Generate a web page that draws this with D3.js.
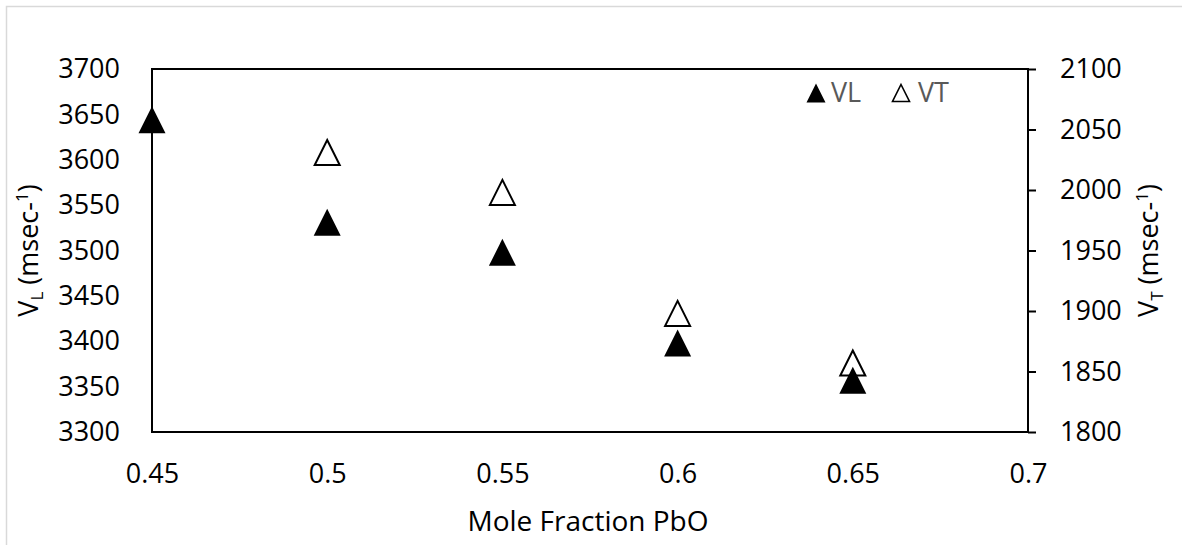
<!DOCTYPE html>
<html>
<head>
<meta charset="utf-8">
<script src="https://cdn.jsdelivr.net/npm/d3@7"></script>
<style>
  body { margin: 0; background: #fff; }
  text { font-family: "Open Sans", sans-serif; }
</style>
</head>
<body>
<div id="chart"></div>
<script>
// Sound velocities vs mole fraction PbO

var width = 1182
var height = 545

// data
var moleFraction = [0.45, 0.5, 0.55, 0.6, 0.65]
var vlValues = [3644, 3531, 3498, 3398, 3357]
var vtFraction = [0.5, 0.55, 0.6, 0.65]
var vtValues = [2031, 1998, 1898, 1857]

var xTicks = [0.45, 0.5, 0.55, 0.6, 0.65, 0.7]
var vlTicks = [3300, 3350, 3400, 3450, 3500, 3550, 3600, 3650, 3700]
var vtTicks = [1800, 1850, 1900, 1950, 2000, 2050, 2100]

var margin = {left: 152, top: 69, right: 1182 - 1028, bottom: 545 - 432}

var svg = d3.select("#chart")
  .append("svg")
    .attr("width", width)
    .attr("height", height)

// chart area border (light grey, cut by the window on the right and bottom)
svg.append("rect")
  .attr("x", 6.5).attr("y", 6.5)
  .attr("width", width + 20).attr("height", height + 20)
  .attr("fill", "none")
  .attr("stroke", "#d9d9d9")
  .attr("stroke-width", 1.5)

var x = d3.scaleLinear()
  .domain([0.45, 0.7])
  .range([margin.left, width - margin.right])

var yL = d3.scaleLinear()
  .domain([3300, 3700])
  .range([height - margin.bottom, margin.top])

var yT = d3.scaleLinear()
  .domain([1800, 2100])
  .range([height - margin.bottom, margin.top])

// plot frame
svg.append("rect")
  .attr("x", x(0.45)).attr("y", yL(3700))
  .attr("width", x(0.7) - x(0.45))
  .attr("height", yL(3300) - yL(3700))
  .attr("fill", "none")
  .attr("stroke", "#000")
  .attr("stroke-width", 2)

// axes
var fmt = function(d){ return String(d) }

var xAxis = svg.append("g")
  .attr("transform", "translate(0," + (height - margin.bottom) + ")")
  .call(d3.axisBottom(x).tickValues(xTicks).tickFormat(fmt).tickSize(0).tickPadding(32))
var yLAxis = svg.append("g")
  .attr("transform", "translate(" + margin.left + ",0)")
  .call(d3.axisLeft(yL).tickValues(vlTicks).tickFormat(fmt).tickSize(0).tickPadding(32))
var yTAxis = svg.append("g")
  .attr("transform", "translate(" + (width - margin.right) + ",0)")
  .call(d3.axisRight(yT).tickValues(vtTicks).tickFormat(fmt).tickSize(8).tickPadding(24))

svg.selectAll(".domain").remove()
svg.selectAll(".tick text")
  .attr("font-size", 27)
  .attr("font-family", "Open Sans, sans-serif")
  .attr("fill", "#000")
svg.selectAll(".tick line").attr("stroke", "#000").attr("stroke-width", 2)

// axis titles
svg.append("text")
  .attr("x", 588).attr("y", 531)
  .attr("text-anchor", "middle")
  .attr("font-size", 28)
  .text("Mole Fraction PbO")

var lt = svg.append("text")
  .attr("transform", "translate(38," + ((yL(3300) + yL(3700)) / 2) + ") rotate(-90)")
  .attr("text-anchor", "middle")
  .attr("font-size", 27)
lt.append("tspan").text("V")
lt.append("tspan").attr("font-size", 17).attr("dy", 5).text("L")
lt.append("tspan").attr("dy", -5).text(" (msec-")
lt.append("tspan").attr("font-size", 17).attr("dy", -10).text("1")
lt.append("tspan").attr("dy", 10).text(")")

var rt = svg.append("text")
  .attr("transform", "translate(1158," + ((yT(1800) + yT(2100)) / 2) + ") rotate(-90)")
  .attr("text-anchor", "middle")
  .attr("font-size", 27)
rt.append("tspan").text("V")
rt.append("tspan").attr("font-size", 17).attr("dy", 5).text("T")
rt.append("tspan").attr("dy", -5).text(" (msec-")
rt.append("tspan").attr("font-size", 17).attr("dy", -10).text("1")
rt.append("tspan").attr("dy", 10).text(")")

// triangle marker as in spreadsheet charts (as tall as wide)
var tri = {
  draw: function(ctx, size) {
    var r = Math.sqrt(size) / 2
    ctx.moveTo(0, -r)
    ctx.lineTo(r, r)
    ctx.lineTo(-r, r)
    ctx.closePath()
  }
}

// VT points (open)
svg.append("g")
  .selectAll("path")
  .data(vtFraction)
  .enter()
  .append("path")
    .attr("d", d3.symbol().type(tri).size(25 * 25))
    .attr("transform", function(d, i){ return "translate(" + x(d) + "," + yT(vtValues[i]) + ")" })
    .attr("fill", "#fff")
    .attr("stroke", "#000")
    .attr("stroke-width", 2)

// VL points (filled)
svg.append("g")
  .selectAll("path")
  .data(moleFraction)
  .enter()
  .append("path")
    .attr("d", d3.symbol().type(tri).size(27 * 27))
    .attr("transform", function(d, i){ return "translate(" + x(d) + "," + yL(vlValues[i]) + ")" })
    .attr("fill", "#000")

// legend
var legend = svg.append("g")
legend.append("path")
  .attr("d", d3.symbol().type(tri).size(19 * 19))
  .attr("transform", "translate(816,93)")
  .attr("fill", "#000")
legend.append("text")
  .attr("x", 831).attr("y", 102)
  .attr("font-size", 27)
  .attr("fill", "#595959")
  .text("VL")
legend.append("path")
  .attr("d", d3.symbol().type(tri).size(17 * 17))
  .attr("transform", "translate(901,93)")
  .attr("fill", "#fff")
  .attr("stroke", "#000")
  .attr("stroke-width", 1.6)
legend.append("text")
  .attr("x", 918).attr("y", 102)
  .attr("font-size", 27)
  .attr("fill", "#595959")
  .text("VT")
</script>
</body>
</html>
